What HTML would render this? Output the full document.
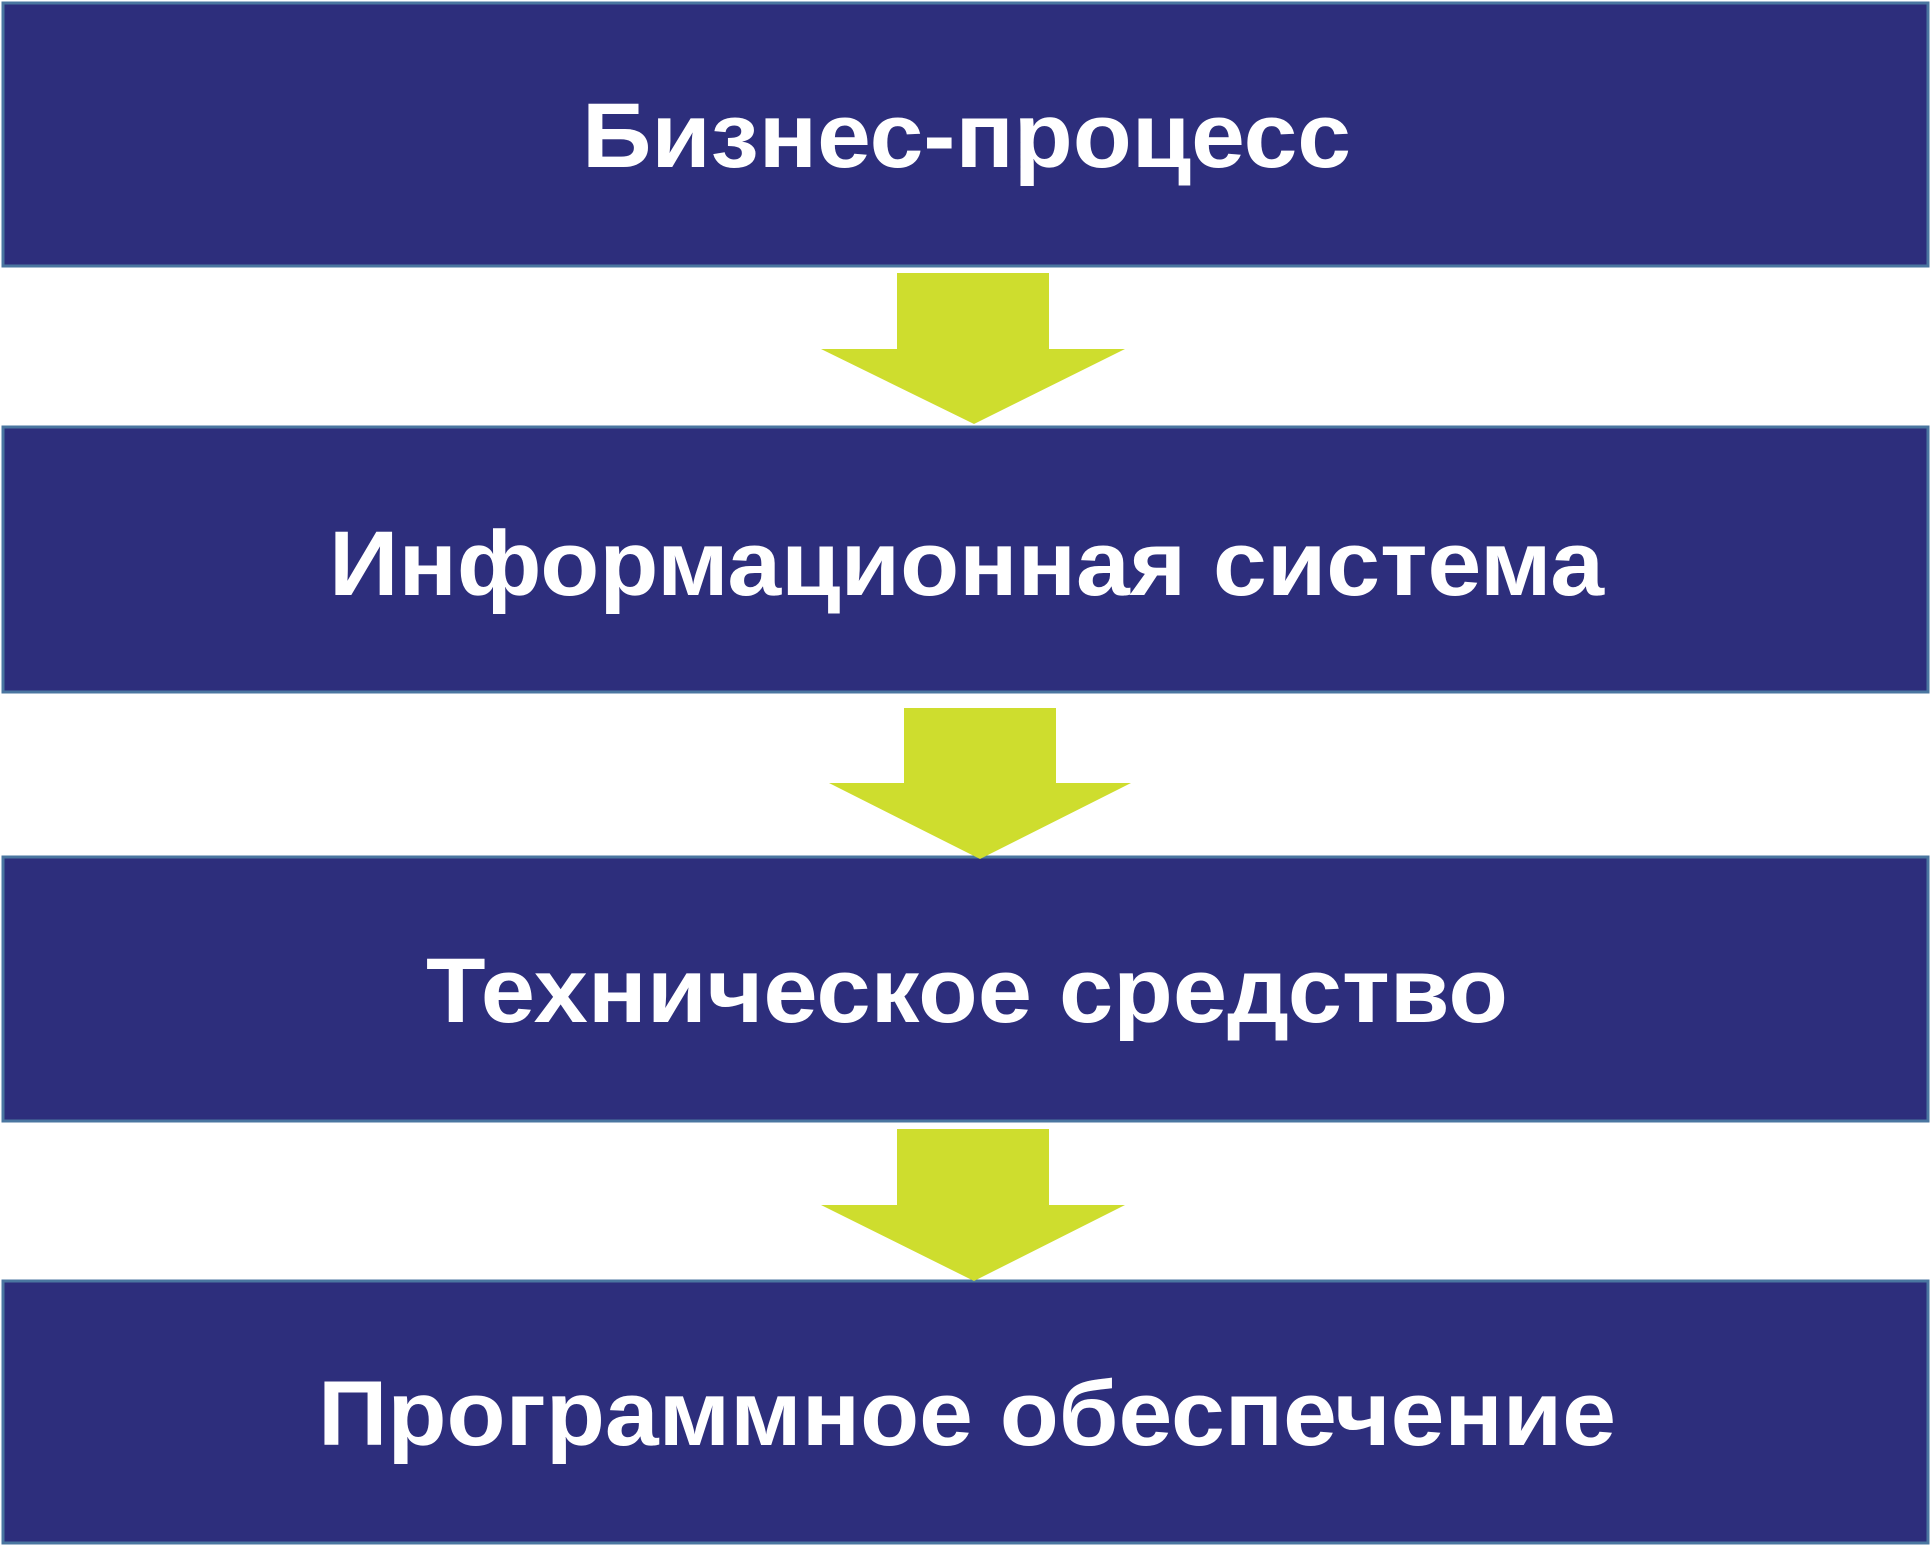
<!DOCTYPE html>
<html><head><meta charset="utf-8"><style>html,body{margin:0;padding:0;background:#fff}svg{display:block}</style></head>
<body>
<svg width="1932" height="1556" viewBox="0 0 1932 1556" xmlns="http://www.w3.org/2000/svg">
<g fill="#2d2e7c" stroke="#4a76a0" stroke-width="3">
<rect x="3" y="3" width="1925" height="263"/>
<rect x="3" y="427" width="1925" height="265"/>
<rect x="3" y="857" width="1925" height="264"/>
<rect x="3" y="1281" width="1925" height="262"/>
</g>
<g fill="#cedd2e">
<polygon points="897,273 1049,273 1049,349 1125,349 974,424 821,349 897,349"/>
<polygon points="904,708 1056,708 1056,783 1131,783 980,859 829,783 904,783"/>
<polygon points="897,1129 1049,1129 1049,1205 1125,1205 974,1281 821,1205 897,1205"/>
</g>
<g fill="#fff" font-family="Liberation Sans, DejaVu Sans, sans-serif" font-weight="bold" font-size="92">
<text x="582" y="167" textLength="769" lengthAdjust="spacingAndGlyphs">Бизнес-процесс</text>
<text x="329" y="595" textLength="1275" lengthAdjust="spacingAndGlyphs">Информационная система</text>
<text x="426" y="1022" textLength="1082" lengthAdjust="spacingAndGlyphs">Техническое средство</text>
<text x="318" y="1445" textLength="1298" lengthAdjust="spacingAndGlyphs">Программное обеспечение</text>
</g>
</svg>
</body></html>
